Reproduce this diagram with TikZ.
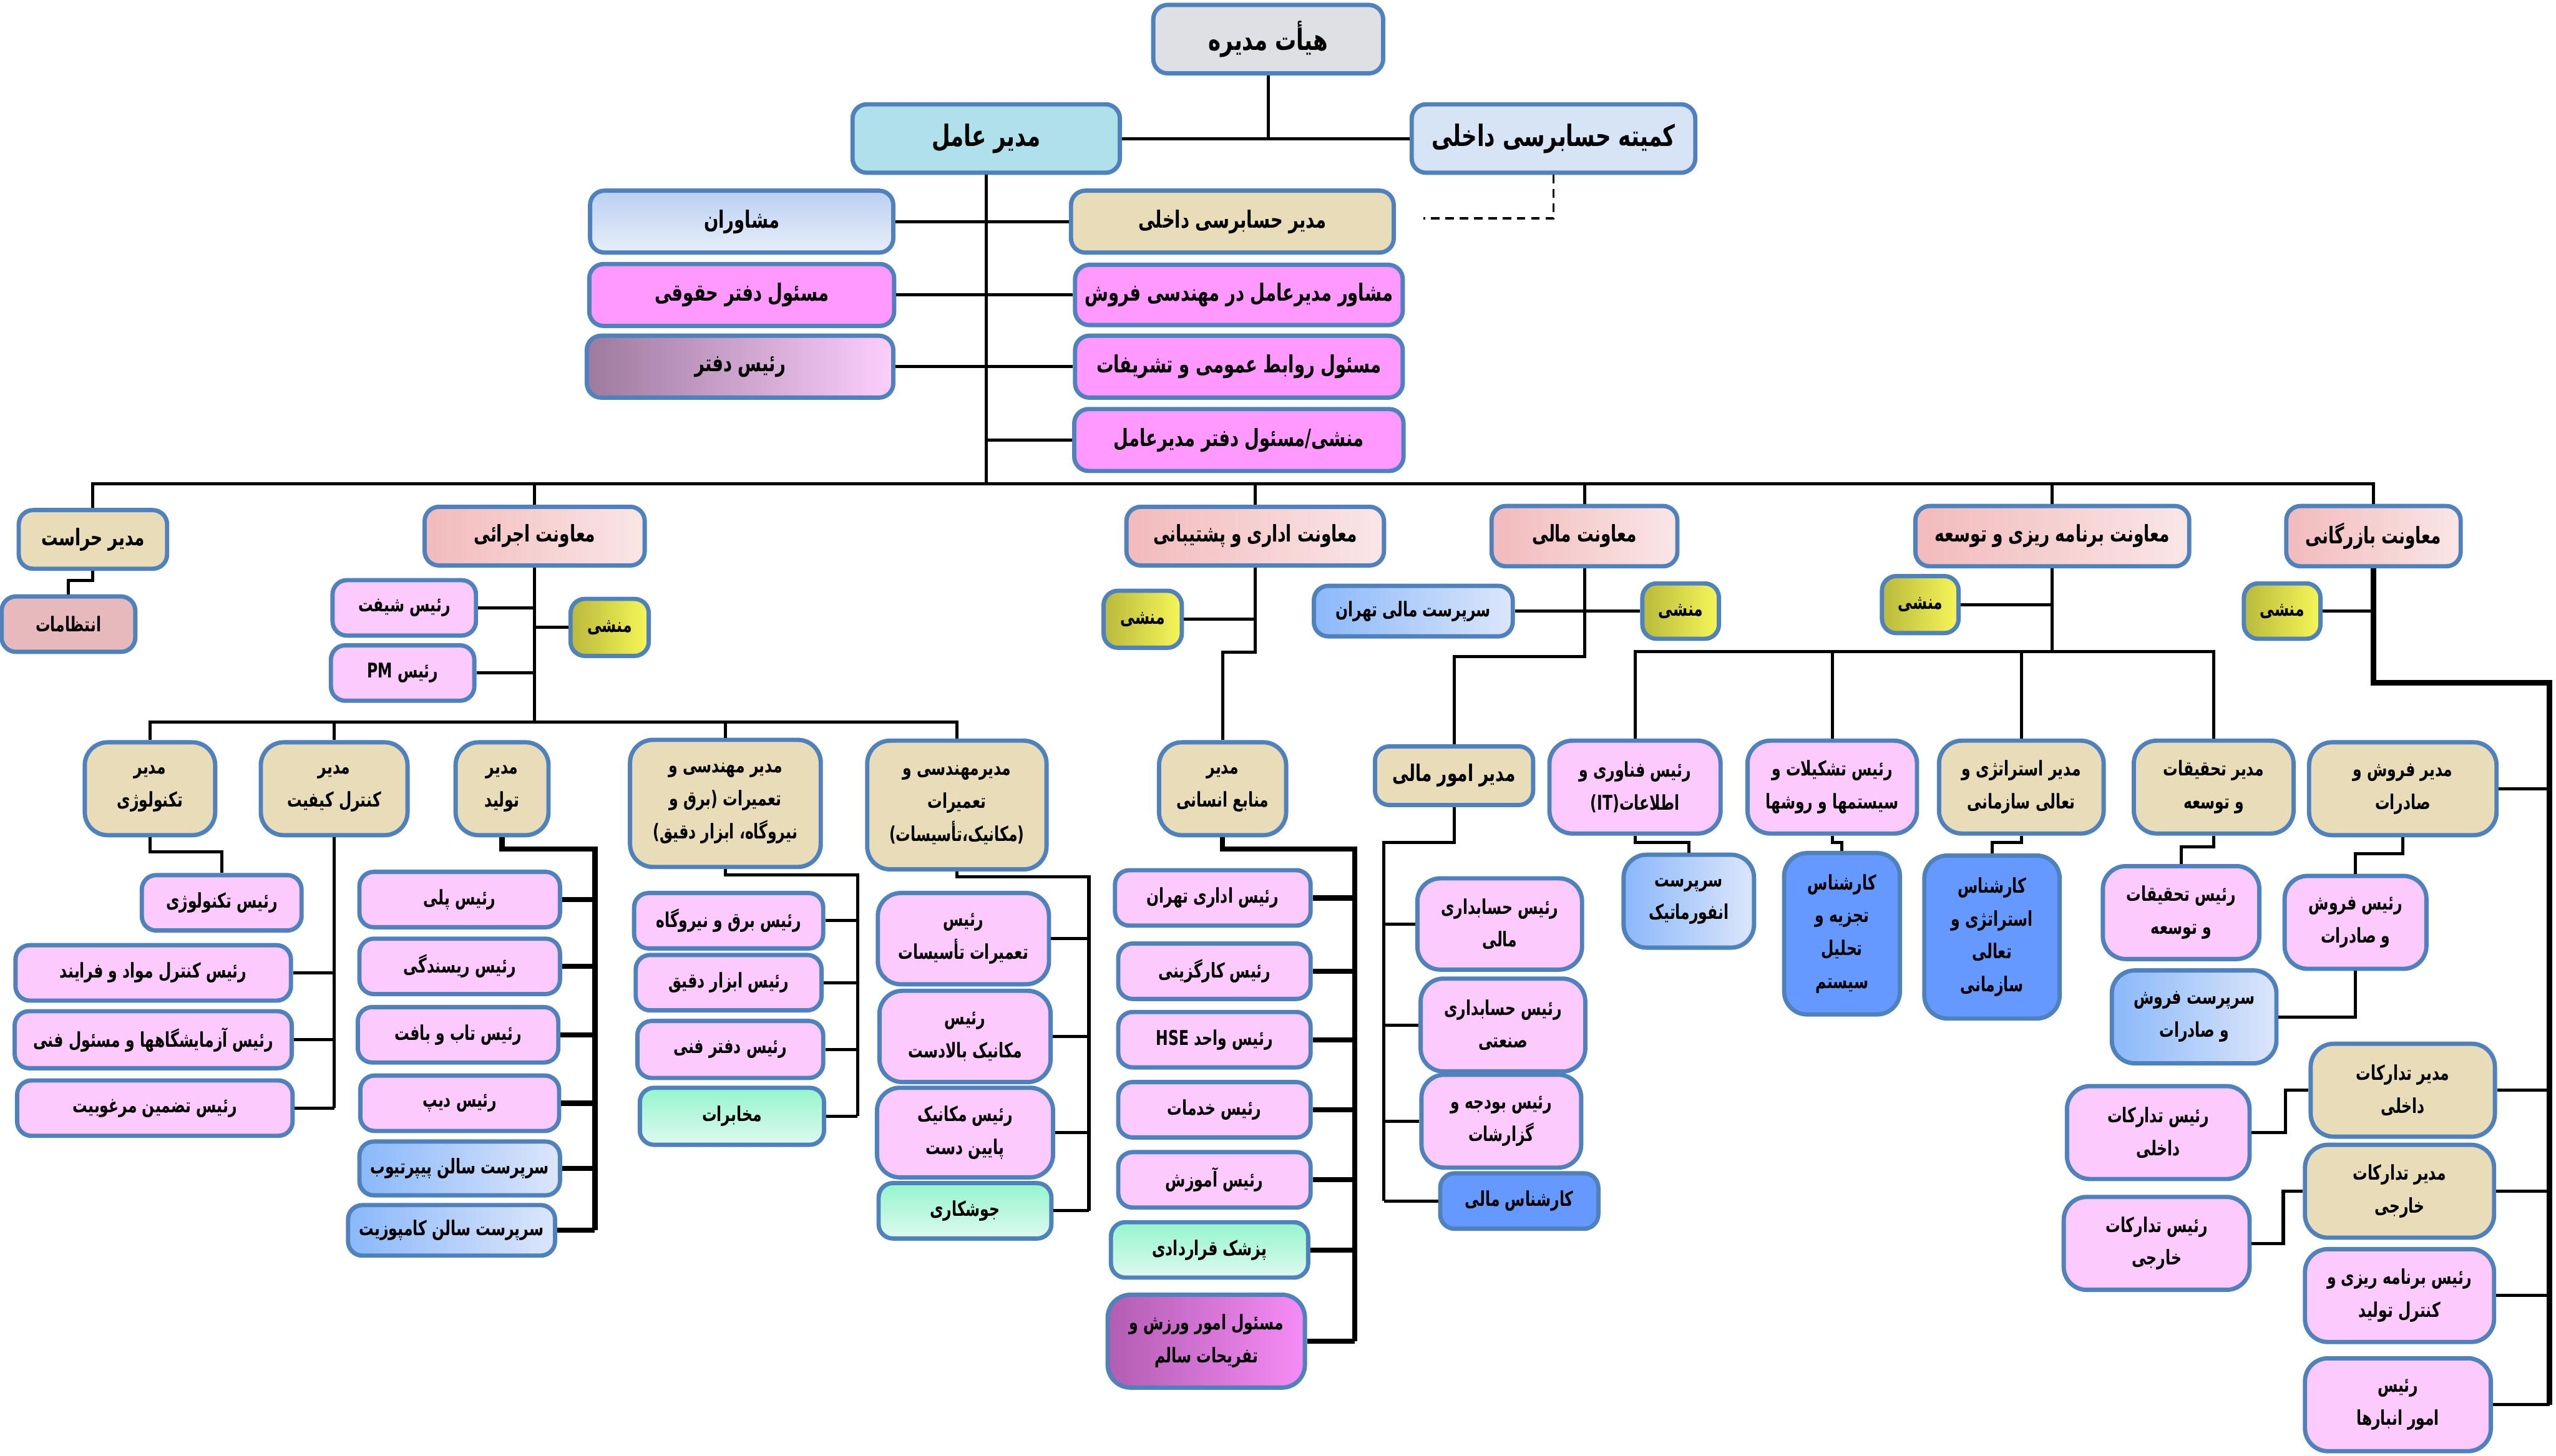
\documentclass[tikz,border=0pt]{standalone}
\usepackage{fontspec}
\usepackage{tikz}
\usetikzlibrary{calc}
\newfontfamily\fafont[Script=Arabic, FakeStretch=0.72]{DejaVu Sans}
\TeXXeTstate=1
\newcommand{\fa}[1]{\beginR #1\endR}
\newcommand{\la}[1]{\beginL #1\endL}
\definecolor{bordblue}{RGB}{79,129,189}
\definecolor{tanfill}{RGB}{233,220,185}
\definecolor{lpinkfill}{RGB}{252,202,252}
\definecolor{magfill}{RGB}{255,153,255}
\definecolor{vpL}{RGB}{242,186,188}
\definecolor{vpR}{RGB}{250,230,230}
\definecolor{monL}{RGB}{185,185,60}
\definecolor{monR}{RGB}{246,246,88}
\definecolor{bgL}{RGB}{138,184,250}
\definecolor{bgR}{RGB}{220,230,250}
\definecolor{kblue}{RGB}{102,153,255}
\definecolor{mintT}{RGB}{148,245,204}
\definecolor{mintB}{RGB}{222,250,240}
\definecolor{moshT}{RGB}{186,208,242}
\definecolor{moshB}{RGB}{232,238,250}
\definecolor{rdL}{RGB}{158,122,158}
\definecolor{rdR}{RGB}{252,206,252}
\definecolor{vzL}{RGB}{178,92,178}
\definecolor{vzR}{RGB}{246,140,246}
\definecolor{entezfill}{RGB}{232,185,188}
\definecolor{boardfill}{RGB}{222,224,228}
\definecolor{ceofill}{RGB}{176,224,234}
\definecolor{cmtfill}{RGB}{214,228,246}

\begin{document}
\begin{tikzpicture}[x=0.02cm, y=-0.02cm,
    box/.style={draw=bordblue, line width=1.5pt, rounded corners=5pt, align=center,
        inner sep=1pt, font=\fafont\bfseries\fontsize{7.1}{11.5}\selectfont},
    mid/.style={font=\fafont\bfseries\fontsize{8}{12}\selectfont},
    big/.style={font=\fafont\bfseries\fontsize{8.3}{12}\selectfont},
    huge/.style={font=\fafont\bfseries\fontsize{10.3}{12}\selectfont},
    tall/.style={rounded corners=8pt},
    sz/.style 2 args={minimum width=#1*0.02cm, minimum height=#2*0.02cm},
    tan/.style={box, fill=tanfill},
    lpink/.style={box, fill=lpinkfill},
    mag/.style={box, fill=magfill},
    vp/.style={box, mid, left color=vpL, right color=vpR},
    monshi/.style={box, left color=monL, right color=monR},
    bgrad/.style={box, left color=bgL, right color=bgR},
    kbox/.style={box, fill=kblue},
    mint/.style={box, top color=mintT, bottom color=mintB},
    conn/.style={line width=1.1pt},
    tconn/.style={line width=1.8pt}]
    \useasboundingbox (0,0) rectangle (1568,893.4);

    % top
    \node[box, huge, fill=boardfill, sz={141}{42}] (board) at (778,24) {\fa{هیأت مدیره}};
    \node[box, huge, fill=ceofill, sz={164}{42}] (ceo) at (605,85) {\fa{مدیر عامل}};
    \node[box, huge, fill=cmtfill, sz={174}{42}] (cmt) at (953,85) {\fa{کمیته حسابرسی داخلی}};
    \coordinate (dashend) at (873,134);

    \node[box, big, top color=moshT, bottom color=moshB, sz={186}{38}] (mosh) at (455,136) {\fa{مشاوران}};
    \node[mag, big, sz={187}{38}] (hoghooghi) at (455,181) {\fa{مسئول دفتر حقوقی}};
    \node[box, big, left color=rdL, right color=rdR, sz={188}{38}] (raisdaftar) at (454,225) {\fa{رئیس دفتر}};
    \node[tan, big, sz={198}{38}] (hesabrasi) at (756,136) {\fa{مدیر حسابرسی داخلی}};
    \node[mag, big, sz={201}{37}] (moshavertf) at (760,181) {\fa{مشاور مدیرعامل در مهندسی فروش}};
    \node[mag, big, sz={201}{38}] (ravabet) at (760,225) {\fa{مسئول روابط عمومی و تشریفات}};
    \node[mag, big, sz={202}{38}] (monshiceo) at (760,270) {\fa{منشی/مسئول دفتر مدیرعامل}};

    \draw[conn] (ceo.east) -- (cmt.west);
    \draw[conn] (board.south) -- (board.south |- cmt.west);
    \draw[line width=0.7pt, dash pattern=on 3pt off 2pt] (cmt.south) |- (dashend);
    \coordinate (busy) at (0,297);
    \draw[conn] (ceo.south) -- (ceo.south |- busy);
    \foreach \n in {mosh,hoghooghi,raisdaftar}
        \draw[conn] (\n.east) -- (\n.east -| ceo.south);
    \foreach \n in {hesabrasi,moshavertf,ravabet,monshiceo}
        \draw[conn] (\n.west) -- (\n.west -| ceo.south);

    % second level
    \node[tan, mid, sz={91}{36}] (haras) at (57,331) {\fa{مدیر حراست}};
    \node[box, fill=entezfill, sz={82}{34}] (entez) at (42,383) {\fa{انتظامات}};
    \node[vp, sz={135}{36}] (ejraei) at (328,329) {\fa{معاونت اجرائی}};
    \node[vp, sz={158}{36}] (edari) at (770,329) {\fa{معاونت اداری و پشتیبانی}};
    \node[vp, sz={114}{37}] (mali) at (972,329) {\fa{معاونت مالی}};
    \node[vp, sz={168}{37}] (barname) at (1259,329) {\fa{معاونت برنامه ریزی و توسعه}};
    \node[vp, sz={107}{37}] (bazargani) at (1456,329) {\fa{معاونت بازرگانی}};

    \draw[conn] (haras.north) -- (haras.north |- busy) -- (bazargani.north |- busy) -- (bazargani.north);
    \foreach \n in {ejraei,edari,mali,barname}
        \draw[conn] (\n.north) -- (\n.north |- busy);
    \draw[conn] (haras.south) -- ++(0,6) -| (entez.north);

    % executive
    \node[lpink, sz={88}{34}] (rshift) at (248,373) {\fa{رئیس شیفت}};
    \node[lpink, sz={88}{34}] (rpm) at (247,413) {\fa{رئیس \la{PM}}};
    \node[monshi, sz={48}{35}] (monshi1) at (374,385) {\fa{منشی}};
    \coordinate (sub1) at (0,443);
    \draw[conn] (ejraei.south) -- (ejraei.south |- sub1);
    \draw[conn] (rshift.east) -- (rshift.east -| ejraei.south);
    \draw[conn] (rpm.east) -- (rpm.east -| ejraei.south);
    \draw[conn] (monshi1.west) -- (monshi1.west -| ejraei.south);

    \node[tan, tall, sz={80}{57}] (mtech) at (92,484) {\fa{مدیر}\\\fa{تکنولوژی}};
    \node[tan, tall, sz={90}{57}] (mqc) at (205,484) {\fa{مدیر}\\\fa{کنترل کیفیت}};
    \node[tan, tall, sz={57}{57}] (mtolid) at (308,484) {\fa{مدیر}\\\fa{تولید}};
    \node[tan, tall, sz={117}{78}] (mbargh) at (445,493) {\fa{مدیر مهندسی و}\\\fa{تعمیرات (برق و}\\\fa{نیروگاه، ابزار دقیق)}};
    \node[tan, tall, sz={110}{79}] (mtasis) at (587,494) {\fa{مدیرمهندسی و}\\\fa{تعمیرات}\\\fa{(مکانیک،تأسیسات)}};
    \draw[conn] (mtech.north) -- (mtech.north |- sub1) -- (mtasis.north |- sub1) -- (mtasis.north);
    \draw[conn] (mqc.north) -- (mqc.north |- sub1);
    \draw[conn] (mbargh.north) -- (mbargh.north |- sub1);

    \node[lpink, sz={98}{34}] (rtech) at (136,554) {\fa{رئیس تکنولوژی}};
    \draw[conn] (mtech.south) -- ++(0,9) -| (rtech.north);

    \node[lpink, sz={169}{34}] (rmavad) at (94,597) {\fa{رئیس کنترل مواد و فرایند}};
    \node[lpink, sz={170}{35}] (razmayesh) at (94,638) {\fa{رئیس آزمایشگاهها و مسئول فنی}};
    \node[lpink, sz={169}{34}] (rtazmin) at (95,680) {\fa{رئیس تضمین مرغوبیت}};
    \draw[conn] (mqc.south) -- (mqc.south |- rtazmin.east);
    \foreach \n in {rmavad,razmayesh,rtazmin}
        \draw[conn] (\n.east) -- (\n.east -| mqc.south);

    \node[lpink, sz={123}{34}] (rpoli) at (282,552) {\fa{رئیس پلی}};
    \node[lpink, sz={123}{34}] (rrisand) at (282,593) {\fa{رئیس ریسندگی}};
    \node[lpink, sz={123}{34}] (rtab) at (281,635) {\fa{رئیس تاب و بافت}};
    \node[lpink, sz={122}{34}] (rdip) at (282,677) {\fa{رئیس دیپ}};
    \node[bgrad, sz={123}{33}] (spipe) at (282,717) {\fa{سرپرست سالن پیپرتیوب}};
    \node[bgrad, sz={127}{31}] (scomp) at (277,755) {\fa{سرپرست سالن کامپوزیت}};
    \coordinate (tolidv) at (365,521);
    \draw[tconn] (mtolid.south) |- (tolidv) -- (tolidv |- scomp.east);
    \foreach \n in {rpoli,rrisand,rtab,rdip,spipe,scomp}
        \draw[tconn] (\n.east) -- (\n.east -| tolidv);

    \node[lpink, sz={116}{34}] (rbargh) at (447,565) {\fa{رئیس برق و نیروگاه}};
    \node[lpink, sz={114}{34}] (rabzar) at (447,603) {\fa{رئیس ابزار دقیق}};
    \node[lpink, sz={114}{35}] (rdaftarfani) at (448,644) {\fa{رئیس دفتر فنی}};
    \node[mint, sz={113}{35}] (mokhaberat) at (449,685) {\fa{مخابرات}};
    \coordinate (barghv) at (526,537);
    \draw[conn] (mbargh.south) |- (barghv) -- (barghv |- mokhaberat.east);
    \foreach \n in {rbargh,rabzar,rdaftarfani,mokhaberat}
        \draw[conn] (\n.east) -- (\n.east -| barghv);

    \node[lpink, tall, sz={105}{56}] (rtasisat) at (591,576) {\fa{رئیس}\\\fa{تعمیرات تأسیسات}};
    \node[lpink, tall, sz={105}{56}] (rbaladast) at (592,636) {\fa{رئیس}\\\fa{مکانیک بالادست}};
    \node[lpink, tall, sz={108}{55}] (rpayin) at (592,695) {\fa{رئیس مکانیک}\\\fa{پایین دست}};
    \node[mint, sz={106}{34}] (jooshkari) at (592,743) {\fa{جوشکاری}};
    \coordinate (tasisv) at (668,538);
    \draw[conn] (mtasis.south) |- (tasisv) -- (tasisv |- jooshkari.east);
    \foreach \n in {rtasisat,rbaladast,rpayin,jooshkari}
        \draw[conn] (\n.east) -- (\n.east -| tasisv);

    % administration
    \node[monshi, sz={48}{35}] (monshi2) at (701,380) {\fa{منشی}};
    \draw[conn] (monshi2.east) -- (monshi2.east -| edari.south);
    \node[tan, tall, sz={78}{57}] (mmanabe) at (750,484) {\fa{مدیر}\\\fa{منابع انسانی}};
    \draw[conn] (edari.south) -- ++(0,52) -| (mmanabe.north);

    \node[lpink, sz={120}{34}] (redari) at (744,551) {\fa{رئیس اداری تهران}};
    \node[lpink, sz={118}{34}] (rkargozini) at (745,596) {\fa{رئیس کارگزینی}};
    \node[lpink, sz={118}{34}] (rhse) at (745,638) {\fa{رئیس واحد \la{HSE}}};
    \node[lpink, sz={118}{34}] (rkhadamat) at (745,681) {\fa{رئیس خدمات}};
    \node[lpink, sz={118}{34}] (ramoozesh) at (745,724) {\fa{رئیس آموزش}};
    \node[mint, sz={121}{34}] (pezeshk) at (742,767) {\fa{پزشک قراردادی}};
    \node[box, tall, left color=vzL, right color=vzR, sz={121}{57}] (varzesh) at (740,823) {\fa{مسئول امور ورزش و}\\\fa{تفریحات سالم}};
    \coordinate (manabev) at (831,521);
    \draw[tconn] (mmanabe.south) |- (manabev) -- (manabev |- varzesh.east);
    \foreach \n in {redari,rkargozini,rhse,rkhadamat,ramoozesh,pezeshk,varzesh}
        \draw[tconn] (\n.east) -- (\n.east -| manabev);

    % finance
    \node[bgrad, sz={122}{31}] (smali) at (867,375) {\fa{سرپرست مالی تهران}};
    \node[monshi, sz={47}{34}] (monshi3) at (1031,375) {\fa{منشی}};
    \draw[conn] (smali.east) -- (monshi3.west);
    \node[tan, mid, sz={97}{36}] (mmali) at (892,476) {\fa{مدیر امور مالی}};
    \draw[conn] (mali.south) -- ++(0,54) -| (mmali.north);

    \node[lpink, tall, sz={101}{56}] (rhmali) at (920,567) {\fa{رئیس حسابداری}\\\fa{مالی}};
    \node[lpink, tall, sz={101}{57}] (rhsanati) at (922,629) {\fa{رئیس حسابداری}\\\fa{صنعتی}};
    \node[lpink, tall, sz={98}{57}] (rbudje) at (921,688) {\fa{رئیس بودجه و}\\\fa{گزارشات}};
    \node[kbox, sz={97}{34}] (kmali) at (932,737) {\fa{کارشناس مالی}};
    \coordinate (maliv) at (849,517);
    \draw[conn] (mmali.south) |- (maliv) -- (maliv |- kmali.west);
    \foreach \n in {rhmali,rhsanati,rbudje,kmali}
        \draw[conn] (\n.west) -- (\n.west -| maliv);

    % planning
    \node[monshi, sz={47}{35}] (monshi4) at (1178,371) {\fa{منشی}};
    \draw[conn] (monshi4.east) -- (monshi4.east -| barname.south);
    \coordinate (sub4) at (0,400);
    \node[lpink, tall, sz={105}{57}] (rit) at (1003,483) {\fa{رئیس فناوری و}\\\fa{اطلاعات\la{(IT)}}};
    \node[lpink, tall, sz={104}{57}] (rtashkilat) at (1124,483) {\fa{رئیس تشکیلات و}\\\fa{سیستمها و روشها}};
    \node[tan, tall, sz={101}{57}] (mestrategy) at (1240,483) {\fa{مدیر استراتژی و}\\\fa{تعالی سازمانی}};
    \node[tan, tall, sz={98}{57}] (mtahghigh) at (1358,483) {\fa{مدیر تحقیقات}\\\fa{و توسعه}};
    \draw[conn] (barname.south) -- (barname.south |- sub4);
    \draw[conn] (rit.north) -- (rit.north |- sub4) -- (mtahghigh.north |- sub4) -- (mtahghigh.north);
    \draw[conn] (rtashkilat.north) -- (rtashkilat.north |- sub4);
    \draw[conn] (mestrategy.north) -- (mestrategy.north |- sub4);

    \node[bgrad, tall, sz={80}{57}] (sinfo) at (1036,553) {\fa{سرپرست}\\\fa{انفورماتیک}};
    \node[kbox, tall, sz={71}{99}] (ktahlil) at (1130,573) {\fa{کارشناس}\\\fa{تجزیه و}\\\fa{تحلیل}\\\fa{سیستم}};
    \node[kbox, tall, sz={83}{100}] (kstrategy) at (1222,575) {\fa{کارشناس}\\\fa{استراتژی و}\\\fa{تعالی}\\\fa{سازمانی}};
    \node[lpink, tall, sz={96}{57}] (rtahghigh) at (1338,560) {\fa{رئیس تحقیقات}\\\fa{و توسعه}};
    \draw[conn] (rit.south) -- ++(0,4) -| (sinfo.north);
    \draw[conn] (rtashkilat.south) -- ++(0,4) -| (ktahlil.north);
    \draw[conn] (mestrategy.south) -- ++(0,4) -| (kstrategy.north);
    \draw[conn] (mtahghigh.south) -- ++(0,7) -| (rtahghigh.north);

    % commerce
    \node[monshi, sz={47}{34}] (monshi5) at (1400,375) {\fa{منشی}};
    \draw[conn] (monshi5.east) -- (monshi5.east -| bazargani.south);
    \node[tan, tall, sz={115}{57}] (mforoosh) at (1474,484) {\fa{مدیر فروش و}\\\fa{صادرات}};
    \node[lpink, tall, sz={87}{57}] (rforoosh) at (1445,566) {\fa{رئیس فروش}\\\fa{و صادرات}};
    \node[bgrad, tall, sz={101}{57}] (sforoosh) at (1346,624) {\fa{سرپرست فروش}\\\fa{و صادرات}};
    \node[tan, tall, sz={113}{57}] (mtadint) at (1474,669) {\fa{مدیر تدارکات}\\\fa{داخلی}};
    \node[tan, tall, sz={116}{57}] (mtadext) at (1472,731) {\fa{مدیر تدارکات}\\\fa{خارجی}};
    \node[lpink, tall, sz={112}{57}] (rtadint) at (1324,695) {\fa{رئیس تدارکات}\\\fa{داخلی}};
    \node[lpink, tall, sz={114}{57}] (rtadext) at (1323,763) {\fa{رئیس تدارکات}\\\fa{خارجی}};
    \node[lpink, tall, sz={116}{57}] (rbarname) at (1472,795) {\fa{رئیس برنامه ریزی و}\\\fa{کنترل تولید}};
    \node[lpink, tall, sz={114}{57}] (ranbar) at (1471,862) {\fa{رئیس}\\\fa{امور انبارها}};
    \coordinate (bazv) at (1564,419);
    \draw[tconn] (bazargani.south) |- (bazv) -- (bazv |- ranbar.east);
    \foreach \n in {mforoosh,mtadint,mtadext,rbarname,ranbar}
        \draw[conn] (\n.east) -- (\n.east -| bazv);
    \draw[conn] (mforoosh.south) -- ++(0,10) -| (rforoosh.north);
    \draw[conn] (rforoosh.south) |- (sforoosh.east);
    \draw[conn] (mtadint.west) -- ++(-14,0) |- (rtadint.east);
    \draw[conn] (mtadext.west) -- ++(-12,0) |- (rtadext.east);
\end{tikzpicture}
\end{document}
